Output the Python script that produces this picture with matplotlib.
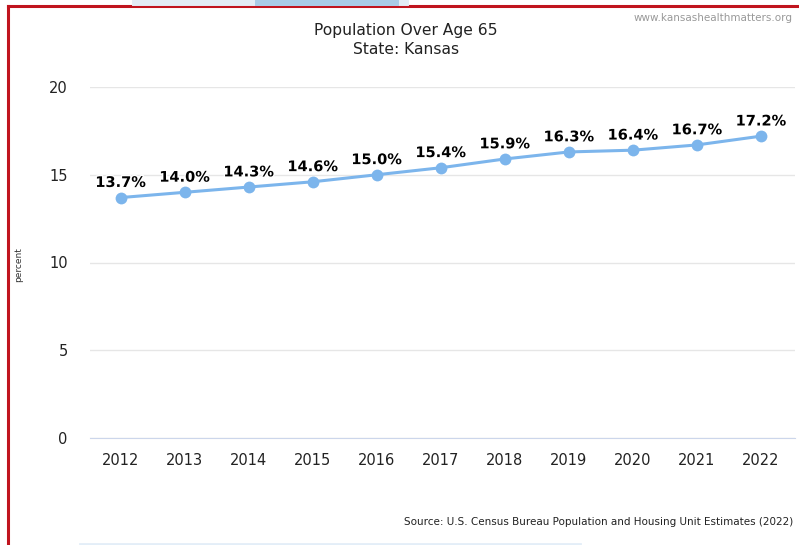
import matplotlib.pyplot as plt
from matplotlib.lines import Line2D
import matplotlib.patheffects as pe

# Данні: частка населення старше 65 років, Канзас
years = [2012, 2013, 2014, 2015, 2016, 2017, 2018, 2019, 2020, 2021, 2022]
values = [13.7, 14.0, 14.3, 14.6, 15.0, 15.4, 15.9, 16.3, 16.4, 16.7, 17.2]
y_ticks = [0, 5, 10, 15, 20]

title_font = ["Liberation Sans Narrow", "DejaVu Sans"]

fig = plt.figure(figsize=(7.99, 5.45), dpi=100)
W, H = 799, 545
ax = fig.add_axes([90 / W, 107 / H, 705 / W, 351 / H])

ax.plot(years, values, color="#7cb5ec", linewidth=2.2, marker="o",
        markersize=8.5, markeredgewidth=0, zorder=3)
for x, v in zip(years, values):
    ax.annotate(f"{v:.1f}%", (x, v), xytext=(0, 5.5), textcoords="offset points",
                ha="center", va="bottom", fontsize=10.5, fontweight="bold",
                color="black", zorder=4,
                path_effects=[pe.withStroke(linewidth=2, foreground="white")])

ax.set_xlim(2011.52, 2022.53)
ax.set_ylim(0, 20)
ax.set_xticks(years)
ax.set_yticks(y_ticks)
ax.yaxis.grid(True, color="#e6e6e6", linewidth=1)
ax.set_axisbelow(True)
for s in ["top", "right", "left"]:
    ax.spines[s].set_visible(False)
ax.spines["bottom"].set_color("#ccd6eb")
ax.tick_params(axis="both", length=0, labelsize=10.5, colors="#222222")
ax.tick_params(axis="x", pad=11)
ax.tick_params(axis="y", pad=16)

fig.text(19 / W, 1 - 265 / H, "percent", rotation=90, ha="center", va="center",
         fontsize=6.5, color="#333333")
fig.text(406 / W, 1 - 30 / H, "Population Over Age 65", ha="center", va="center",
         fontsize=11.2, family=title_font, color="#222222")
fig.text(406 / W, 1 - 49 / H, "State: Kansas", ha="center", va="center",
         fontsize=11.2, family=title_font, color="#222222")
fig.text(793 / W, 1 - 18 / H, "www.kansashealthmatters.org", ha="right", va="center",
         fontsize=7.5, family=title_font, color="#999999")
fig.text(793 / W, 1 - 522 / H,
         "Source: U.S. Census Bureau Population and Housing Unit Estimates (2022)",
         ha="right", va="center", fontsize=7.5, family=title_font, color="#222222")

# червона рамка та світло-блакитні смуги по краях
fig.add_artist(Line2D([8 / W, 1], [1 - 6 / H, 1 - 6 / H], color="#c0141e", linewidth=2.2))
fig.add_artist(Line2D([8 / W, 8 / W], [0, 1 - 6 / H], color="#c0141e", linewidth=2.2))
fig.add_artist(Line2D([135 / W, 405 / W], [1 - 2 / H, 1 - 2 / H], color="#e3ecf5", linewidth=5))
fig.add_artist(Line2D([258 / W, 395 / W], [1 - 2 / H, 1 - 2 / H], color="#a9cbe6", linewidth=5))
fig.add_artist(Line2D([80 / W, 580 / W], [1 / H, 1 / H], color="#e3eef8", linewidth=2))

fig.savefig("out.png", dpi=100)
